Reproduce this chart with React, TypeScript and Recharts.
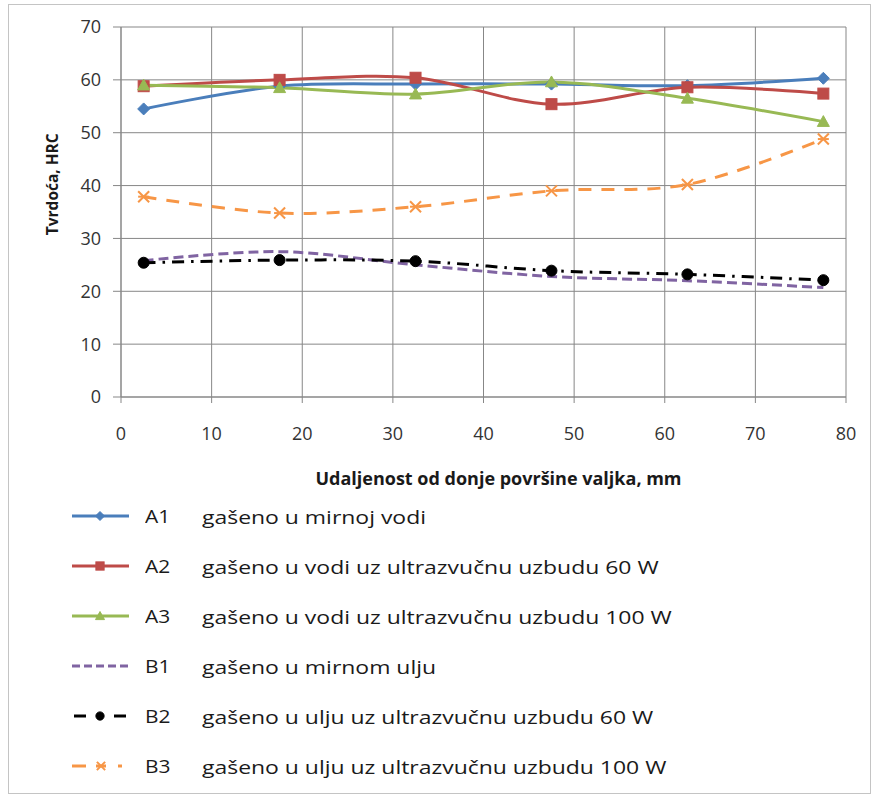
import React from 'react';
import { LineChart, Line, XAxis, YAxis, CartesianGrid, Legend } from 'recharts';

const distances = [2.5, 17.5, 32.5, 47.5, 62.5, 77.5];
const a1Values = [54.5, 58.8, 59.2, 59.2, 58.9, 60.3];
const a2Values = [58.8, 60.0, 60.4, 55.4, 58.6, 57.4];
const a3Values = [59.0, 58.5, 57.3, 59.6, 56.5, 52.1];
const b1Values = [25.8, 27.5, 25.0, 22.8, 22.0, 20.7];
const b2Values = [25.4, 25.9, 25.7, 23.9, 23.2, 22.1];
const b3Values = [37.9, 34.8, 36.0, 39.0, 40.2, 48.8];
const xTicks = [0, 10, 20, 30, 40, 50, 60, 70, 80];
const yTicks = [0, 10, 20, 30, 40, 50, 60, 70];

const seriesCodes = ['A1', 'A2', 'A3', 'B1', 'B2', 'B3'];
const seriesNames = [
  'gašeno u mirnoj vodi',
  'gašeno u vodi uz ultrazvučnu uzbudu 60 W',
  'gašeno u vodi uz ultrazvučnu uzbudu 100 W',
  'gašeno u mirnom ulju',
  'gašeno u ulju uz ultrazvučnu uzbudu 60 W',
  'gašeno u ulju uz ultrazvučnu uzbudu 100 W',
];
const xTitle = 'Udaljenost od donje površine valjka, mm';
const yTitle = 'Tvrdoća, HRC';

const data = distances.map((d, i) => ({
  x: d,
  A1: a1Values[i],
  A2: a2Values[i],
  A3: a3Values[i],
  B1: b1Values[i],
  B2: b2Values[i],
  B3: b3Values[i],
}));

// Cardinal (Catmull-Rom like) curve factory, similar to Excel's smoothing
function cardPoint(that: any, x: number, y: number) {
  that._context.bezierCurveTo(
    that._x1 + that._k * (that._x2 - that._x0),
    that._y1 + that._k * (that._y2 - that._y0),
    that._x2 + that._k * (that._x1 - x),
    that._y2 + that._k * (that._y1 - y),
    that._x2,
    that._y2
  );
}
function Cardinal(this: any, context: any) {
  this._context = context;
  this._k = 1 / 6;
}
Cardinal.prototype = {
  areaStart() { this._line = 0; },
  areaEnd() { this._line = NaN; },
  lineStart() {
    this._x0 = this._x1 = this._x2 = this._y0 = this._y1 = this._y2 = NaN;
    this._point = 0;
  },
  lineEnd() {
    switch (this._point) {
      case 2: this._context.lineTo(this._x2, this._y2); break;
      case 3: cardPoint(this, this._x1, this._y1); break;
    }
    if (this._line || (this._line !== 0 && this._point === 1)) this._context.closePath();
    this._line = 1 - this._line;
  },
  point(x: number, y: number) {
    x = +x; y = +y;
    switch (this._point) {
      case 0:
        this._point = 1;
        if (this._line) this._context.lineTo(x, y); else this._context.moveTo(x, y);
        break;
      case 1:
        this._point = 2; this._x1 = x; this._y1 = y;
        break;
      case 2:
        this._point = 3;
        cardPoint(this, x, y);
        break;
      default:
        cardPoint(this, x, y);
        break;
    }
    this._x0 = this._x1; this._x1 = this._x2; this._x2 = x;
    this._y0 = this._y1; this._y1 = this._y2; this._y2 = y;
  },
};
const smoothCurve: any = (context: any) => new (Cardinal as any)(context);

const COLORS = {
  A1: '#4a7ebb',
  A2: '#be4b48',
  A3: '#98b954',
  B1: '#8064a2',
  B2: '#000000',
  B3: '#f79646',
};

const FONT = '"Open Sans", "Noto Sans", sans-serif';

function Marker({ kind, cx, cy, color, scale = 1 }: any) {
  if (cx == null || cy == null) return null;
  const s = scale;
  if (kind === 'diamond') {
    const r = 6 * s;
    return <path d={`M${cx},${cy - r}L${cx + r},${cy}L${cx},${cy + r}L${cx - r},${cy}Z`} fill={color} stroke={color} />;
  }
  if (kind === 'square') {
    const r = 5.5 * s;
    return <rect x={cx - r} y={cy - r} width={2 * r} height={2 * r} fill={color} stroke={color} />;
  }
  if (kind === 'triangle') {
    const r = 6 * s;
    return <path d={`M${cx},${cy - r}L${cx + r},${cy + r * 0.8}L${cx - r},${cy + r * 0.8}Z`} fill={color} stroke={color} />;
  }
  if (kind === 'circle') {
    return <circle cx={cx} cy={cy} r={5.5 * s} fill={color} stroke={color} />;
  }
  if (kind === 'star') {
    const r = 5.5 * s;
    return (
      <g stroke={color} strokeWidth={2}>
        <line x1={cx - r} y1={cy - r} x2={cx + r} y2={cy + r} />
        <line x1={cx - r} y1={cy + r} x2={cx + r} y2={cy - r} />
        <line x1={cx - r} y1={cy} x2={cx + r} y2={cy} />
      </g>
    );
  }
  return null;
}

const seriesStyle: Record<string, { marker: string | null; dash?: string; width: number }> = {
  A1: { marker: 'diamond', width: 3 },
  A2: { marker: 'square', width: 3 },
  A3: { marker: 'triangle', width: 3 },
  B1: { marker: null, dash: '10 5', width: 3 },
  B2: { marker: 'circle', dash: '12 7 2.5 7', width: 3 },
  B3: { marker: 'star', dash: '13 10', width: 3 },
};

function LegendContent() {
  return (
    <div style={{ fontFamily: FONT, color: '#1a1a1a' }}>
      {seriesCodes.map((code, i) => {
        const st = seriesStyle[code];
        const color = (COLORS as any)[code];
        return (
          <div key={code} style={{ height: 50, display: 'flex', alignItems: 'center', position: 'relative' }}>
            <svg width={60} height={20} style={{ display: 'block' }}>
              {code === 'B2' ? (
                <g>
                  <line x1={2} y1={10} x2={14} y2={10} stroke={color} strokeWidth={3} />
                  <line x1={42} y1={10} x2={54} y2={10} stroke={color} strokeWidth={3} />
                </g>
              ) : code === 'B3' ? (
                <g>
                  <line x1={0} y1={10} x2={14} y2={10} stroke={color} strokeWidth={3} />
                  <line x1={24} y1={10} x2={34} y2={10} stroke={color} strokeWidth={3} />
                  <line x1={46} y1={10} x2={50} y2={10} stroke={color} strokeWidth={3} />
                </g>
              ) : code === 'B1' ? (
                <line x1={0} y1={10} x2={57} y2={10} stroke={color} strokeWidth={3} strokeDasharray="8 4" />
              ) : (
                <line x1={0} y1={10} x2={57} y2={10} stroke={color} strokeWidth={3} />
              )}
              {st.marker && <Marker kind={st.marker} cx={code === 'B3' ? 29 : 28} cy={10} color={color} scale={0.75} />}
            </svg>
            <span style={{ position: 'absolute', left: 73, fontSize: 19, display: 'inline-block', transform: 'scaleX(1.1)', transformOrigin: 'left center' }}>{code}</span>
            <span style={{ position: 'absolute', left: 130, fontSize: 18.5, whiteSpace: 'nowrap', display: 'inline-block', transform: 'scaleX(1.24)', transformOrigin: 'left center' }}>{seriesNames[i]}</span>
          </div>
        );
      })}
    </div>
  );
}

function YTitle(props: any) {
  const vb = props.viewBox || {};
  const cx = 52;
  const cy = vb.y + vb.height * 0.425;
  return (
    <text x={cx} y={cy} transform={`rotate(-90, ${cx}, ${cy})`} textAnchor="middle" dominantBaseline="central"
      fontFamily={FONT} fontWeight={700} fontSize={15.5} fill="#1a1a1a">
      {yTitle}
    </text>
  );
}

function XTitle(props: any) {
  const vb = props.viewBox || {};
  const cx = vb.x + vb.width / 2 + 15;
  const cy = 478;
  return (
    <text x={cx} y={cy} textAnchor="middle" dominantBaseline="central"
      fontFamily={FONT} fontWeight={700} fontSize={18} fill="#1a1a1a">
      {xTitle}
    </text>
  );
}

export default function App() {
  return (
    <div style={{ position: 'absolute', left: 0, top: 0, width: 872, height: 795, background: '#fff' }}>
      <div style={{ position: 'absolute', left: 8, top: 4, width: 863, height: 790, border: '1px solid #c4c4c4', boxSizing: 'border-box' }} />
      <div style={{ position: 'absolute', left: 0, top: 0 }}>
        <LineChart width={872} height={795} data={data} margin={{ top: 27, right: 26, left: 60, bottom: 48 }}>
          <CartesianGrid stroke="#878787" strokeWidth={1} />
          <XAxis
            dataKey="x"
            type="number"
            domain={[0, 80]}
            ticks={xTicks}
            interval={0}
            height={60}
            stroke="#878787"
            tickSize={6}
            tick={{ fill: '#333', fontSize: 18, fontFamily: FONT, dy: 22 }}
            label={<XTitle />}
          />
          <YAxis
            type="number"
            domain={[0, 70]}
            ticks={yTicks}
            interval={0}
            width={61}
            stroke="#878787"
            tickSize={8}
            tick={{ fill: '#333', fontSize: 18, fontFamily: FONT, dx: -10 }}
            label={<YTitle />}
          />
          {seriesCodes.map((code) => {
            const st = seriesStyle[code];
            const color = (COLORS as any)[code];
            return (
              <Line
                key={code}
                dataKey={code}
                name={code}
                type={smoothCurve}
                stroke={color}
                strokeWidth={st.width}
                strokeDasharray={st.dash}
                isAnimationActive={false}
                dot={st.marker ? (p: any) => <Marker key={`${code}-${p.index}`} kind={st.marker} cx={p.cx} cy={p.cy} color={color} /> : false}
                activeDot={false}
              />
            );
          })}
          <Legend
            content={<LegendContent />}
            wrapperStyle={{ position: 'absolute', left: 72, top: 491, width: 700, height: 290 }}
          />
        </LineChart>
      </div>
    </div>
  );
}
